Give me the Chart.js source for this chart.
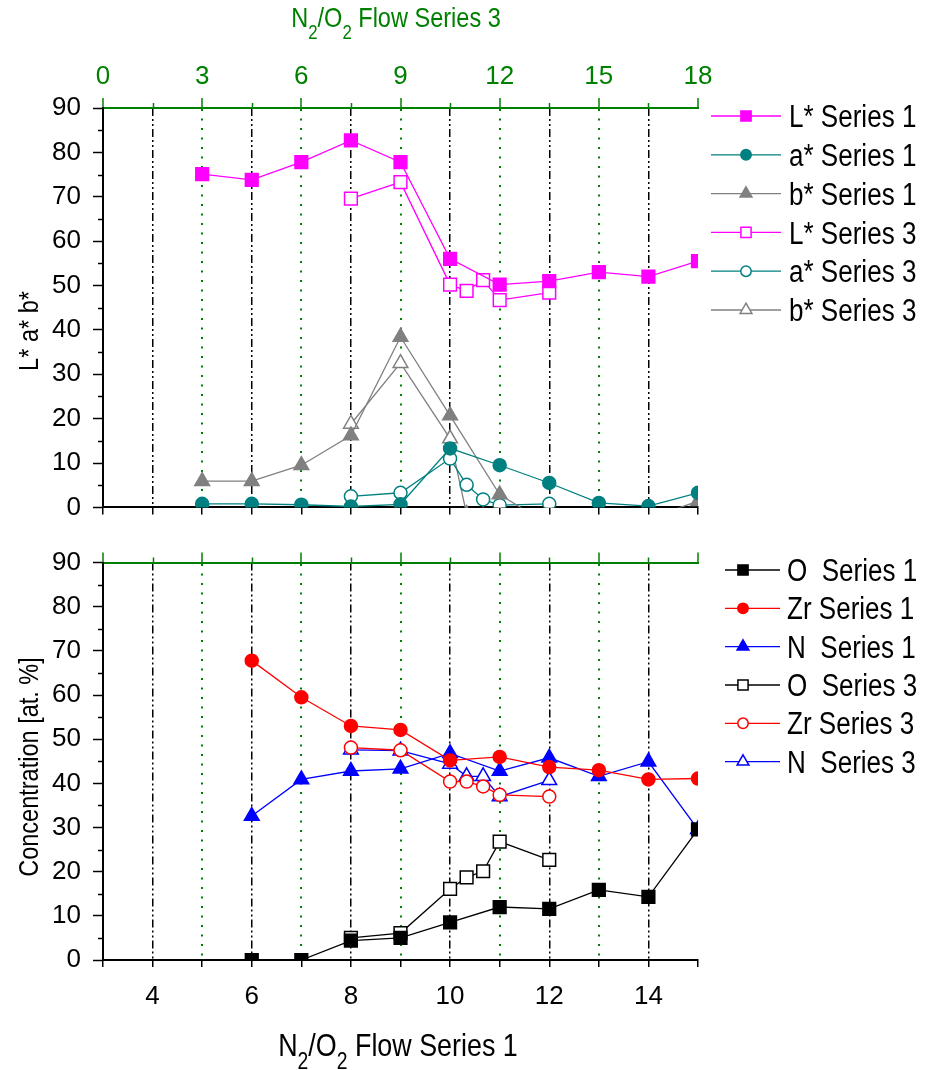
<!DOCTYPE html>
<html>
<head>
<meta charset="utf-8">
<title>Colour and composition vs N2/O2 flow</title>
<script src="https://cdn.jsdelivr.net/npm/chart.js@4.4.1/dist/chart.umd.min.js"></script>
<style>
  html, body { margin: 0; padding: 0; background: #fff; }
  #wrap { position: relative; width: 932px; height: 1070px; }
  canvas { position: absolute; left: 0; }
  #colorChart { top: 0; }
  #compChart { top: 535px; }
</style>
</head>
<body>
<div id="wrap">
  <canvas id="colorChart" width="932" height="535"></canvas>
  <canvas id="compChart" width="932" height="535"></canvas>
</div>
<script>
// flow values: Series 1 sits on the bottom axis, Series 3 on the top (green) axis
const flowS1Color = [5, 6, 7, 8, 9, 10, 11, 12, 13, 14, 15];
const flowS1Comp = [6, 7, 8, 9, 10, 11, 12, 13, 14, 15];
const flowS3 = [7.5, 9, 10.5, 11, 11.5, 12, 13.5];

// CIELab colour coordinates
const lStarS1 = [75.1, 73.8, 77.8, 82.7, 77.8, 56.0, 50.2, 51.0, 53.0, 52.0, 55.5];
const aStarS1 = [0.8, 0.8, 0.6, 0.2, 0.7, 13.3, 9.5, 5.5, 1.0, 0.3, 3.3];
const bStarS1 = [5.9, 5.9, 9.5, 16.2, 38.4, 20.7, 2.9, -4.0, -3.0, -2.5, 1.4];
const lStarS3 = [69.6, 73.3, 50.2, 48.8, 51.2, 46.7, 48.4];
const aStarS3 = [2.5, 3.3, 11.0, 5.1, 1.8, 0.5, 0.8];
const bStarS3 = [18.8, 32.5, 15.5, -1.5, -2.0, -1.5, -1.0];

// composition [at. %]
const oS1 = [0, 0, 4.4, 5.0, 8.5, 12.0, 11.6, 15.9, 14.3, 29.6];
const zrS1 = [67.8, 59.5, 53.0, 52.1, 45.2, 46.0, 43.7, 43.0, 40.9, 41.1];
const nS1 = [32.6, 40.9, 42.8, 43.3, 46.8, 42.8, 45.8, 41.6, 44.9, 29.6];
const oS3 = [5.0, 6.1, 16.1, 18.7, 20.1, 26.8, 22.7];
const zrS3 = [48.1, 47.5, 40.4, 40.4, 39.3, 37.4, 37.0];
const nS3 = [47.6, 47.4, 44.4, 41.6, 41.6, 37.0, 40.7];

// tick labels
const flowS1Ticks = [4, 6, 8, 10, 12, 14];
const flowS3Ticks = [0, 3, 6, 9, 12, 15, 18];
const yTicks = [0, 10, 20, 30, 40, 50, 60, 70, 80, 90];

const GREEN = '#008000';
const CLEAR = 'rgba(0,0,0,0)';
const SANS = '"Liberation Sans", Arial, sans-serif';
const SQUEEZE = 0.84; // legend and titles use a condensed face
const tickFont = { family: SANS, size: 26 };

const markerRadius = { rect: 9, circle: 6.5, triangle: 8.5 };

const toPoints = (xs, ys) => xs.map((x, i) => ({ x: x, y: ys[i] }));

function series(label, xs, ys, color, style, filled, xAxisID) {
  return {
    label: label,
    data: toPoints(xs, ys),
    xAxisID: xAxisID,
    yAxisID: 'y',
    borderColor: color,
    backgroundColor: color,
    borderWidth: 1.3,
    pointStyle: style,
    pointRadius: markerRadius[style],
    pointHoverRadius: markerRadius[style],
    pointBackgroundColor: filled ? color : '#fff',
    pointBorderColor: color,
    pointBorderWidth: 1.5,
    clip: 0
  };
}

function buildScales(isTop) {
  return {
    x: {
      type: 'linear', position: 'bottom', min: 3, max: 15,
      ticks: {
        display: !isTop, stepSize: 1, autoSkip: false, maxRotation: 0, padding: 14,
        color: '#000', font: tickFont,
        callback: v => flowS1Ticks.includes(v) ? String(v) : ''
      },
      grid: {
        color: c => (c.tick && flowS1Ticks.includes(c.tick.value)) ? '#000' : CLEAR,
        lineWidth: 1.5, tickColor: '#000', tickWidth: 1.5, tickLength: 7
      },
      border: { color: '#000', width: 2, dash: [8, 3, 2, 3, 2, 3] },
      afterFit: s => { s.height = isTop ? 22 : 110; s.paddingLeft = 0; s.paddingRight = 0; }
    },
    x2: {
      type: 'linear', position: 'top', min: 0, max: 18,
      afterBuildTicks: s => { s.ticks = flowS3Ticks.map(v => ({ value: v })); },
      ticks: {
        display: isTop, autoSkip: false, maxRotation: 0, padding: 6,
        color: GREEN, font: tickFont
      },
      grid: {
        color: c => (c.tick && c.tick.value > 0 && c.tick.value < 18) ? GREEN : CLEAR,
        lineWidth: 2, tickColor: GREEN, tickWidth: 1.5, tickLength: 10
      },
      border: { color: GREEN, width: 2, dash: [2, 7.5] },
      afterFit: s => { s.height = isTop ? 108 : 20; s.paddingLeft = 0; s.paddingRight = 0; }
    },
    y: {
      type: 'linear', position: 'left', min: 0, max: 90,
      afterBuildTicks: s => { s.ticks = yTicks.map(v => ({ value: v })); },
      ticks: { padding: 12, color: '#000', font: tickFont },
      grid: { drawOnChartArea: false, tickColor: '#000', tickWidth: 1.5, tickLength: 10 },
      border: { color: '#000', width: 2 },
      afterFit: s => { s.width = 103; }
    }
  };
}

// short ticks between the labelled ones on the left and top axes
const minorTicks = {
  id: 'minorTicks',
  afterDraw(chart) {
    const { ctx, chartArea, scales } = chart;
    ctx.save();
    ctx.lineWidth = 1.5;
    ctx.strokeStyle = '#000';
    ctx.beginPath();
    for (let v = 5; v < 90; v += 10) {
      const y = Math.round(scales.y.getPixelForValue(v)) + 0.5;
      ctx.moveTo(chartArea.left - 5, y);
      ctx.lineTo(chartArea.left, y);
    }
    ctx.stroke();
    ctx.strokeStyle = GREEN;
    ctx.beginPath();
    for (let v = 1.5; v < 18; v += 3) {
      const x = Math.round(scales.x2.getPixelForValue(v)) + 0.5;
      ctx.moveTo(x, chartArea.top - 5);
      ctx.lineTo(x, chartArea.top);
    }
    ctx.stroke();
    ctx.restore();
  }
};

// line + marker legend to the right of the plot
const sideLegend = {
  id: 'sideLegend',
  afterDraw(chart, args, opts) {
    const ctx = chart.ctx;
    ctx.save();
    chart.data.datasets.forEach((ds, i) => {
      const y = opts.top + i * opts.step;
      ctx.setLineDash([]);
      ctx.strokeStyle = ds.borderColor;
      ctx.lineWidth = 1.3;
      ctx.beginPath();
      ctx.moveTo(opts.lineStart, y);
      ctx.lineTo(opts.lineEnd, y);
      ctx.stroke();
      ctx.fillStyle = ds.pointBackgroundColor;
      ctx.strokeStyle = ds.pointBorderColor;
      ctx.lineWidth = ds.pointBorderWidth;
      Chart.helpers.drawPoint(ctx, {
        pointStyle: ds.pointStyle,
        radius: ds.pointRadius * 0.8,
        rotation: 0,
        borderWidth: ds.pointBorderWidth
      }, opts.markerX, y);
      ctx.save();
      ctx.translate(opts.textX, y + opts.size * 0.36);
      ctx.scale(SQUEEZE, 1);
      ctx.fillStyle = '#000';
      ctx.font = opts.size + 'px ' + SANS;
      ctx.textBaseline = 'alphabetic';
      ctx.textAlign = 'left';
      ctx.fillText(ds.label, 0, 0);
      ctx.restore();
    });
    ctx.restore();
  }
};

// axis titles with subscripts, optionally rotated
const axisTitles = {
  id: 'axisTitles',
  afterDraw(chart, args, opts) {
    const ctx = chart.ctx;
    opts.items.forEach(item => {
      const subSize = Math.round(item.size * 0.72);
      ctx.save();
      ctx.translate(item.x, item.y);
      if (item.rotate) ctx.rotate(-Math.PI / 2);
      ctx.scale(SQUEEZE, 1);
      ctx.fillStyle = item.color;
      ctx.textBaseline = 'alphabetic';
      ctx.textAlign = 'left';
      const widths = item.parts.map(p => {
        ctx.font = (p.sub ? subSize : item.size) + 'px ' + SANS;
        return ctx.measureText(p.text).width;
      });
      let x = -widths.reduce((a, b) => a + b, 0) / 2;
      const base = item.size * 0.36;
      item.parts.forEach((p, i) => {
        ctx.font = (p.sub ? subSize : item.size) + 'px ' + SANS;
        ctx.fillText(p.text, x, base + (p.sub ? item.size * 0.42 : 0));
        x += widths[i];
      });
      ctx.restore();
    });
  }
};

function flowTitle(seriesNo) {
  return [
    { text: 'N' }, { text: '2', sub: true }, { text: '/O' }, { text: '2', sub: true },
    { text: ' Flow Series ' + seriesNo }
  ];
}

function baseOptions(isTop, legendOpts, titles) {
  return {
    responsive: false,
    animation: false,
    layout: { padding: { left: 0, right: 234, top: 0, bottom: 0 } },
    scales: buildScales(isTop),
    plugins: {
      legend: { display: false },
      tooltip: { enabled: false },
      sideLegend: legendOpts,
      axisTitles: { items: titles }
    }
  };
}

new Chart(document.getElementById('colorChart'), {
  type: 'line',
  data: {
    datasets: [
      series('L* Series 1', flowS1Color, lStarS1, '#ff00ff', 'rect', true, 'x'),
      series('a* Series 1', flowS1Color, aStarS1, '#008080', 'circle', true, 'x'),
      series('b* Series 1', flowS1Color, bStarS1, '#808080', 'triangle', true, 'x'),
      series('L* Series 3', flowS3, lStarS3, '#ff00ff', 'rect', false, 'x2'),
      series('a* Series 3', flowS3, aStarS3, '#008080', 'circle', false, 'x2'),
      series('b* Series 3', flowS3, bStarS3, '#808080', 'triangle', false, 'x2')
    ]
  },
  options: baseOptions(true,
    { top: 116, step: 38.8, lineStart: 711, lineEnd: 781, markerX: 746, textX: 789, size: 31 },
    [
      { parts: flowTitle(3), x: 396, y: 17, size: 28, color: GREEN },
      { parts: [{ text: 'L* a* b*' }], x: 28, y: 331, size: 28, color: '#000', rotate: true }
    ]),
  plugins: [minorTicks, sideLegend, axisTitles]
});

new Chart(document.getElementById('compChart'), {
  type: 'line',
  data: {
    datasets: [
      series('O  Series 1', flowS1Comp, oS1, '#000000', 'rect', true, 'x'),
      series('Zr Series 1', flowS1Comp, zrS1, '#ff0000', 'circle', true, 'x'),
      series('N  Series 1', flowS1Comp, nS1, '#0000ff', 'triangle', true, 'x'),
      series('O  Series 3', flowS3, oS3, '#000000', 'rect', false, 'x2'),
      series('Zr Series 3', flowS3, zrS3, '#ff0000', 'circle', false, 'x2'),
      series('N  Series 3', flowS3, nS3, '#0000ff', 'triangle', false, 'x2')
    ]
  },
  options: baseOptions(false,
    { top: 35, step: 38.33, lineStart: 725, lineEnd: 780, markerX: 743, textX: 787, size: 31 },
    [
      { parts: flowTitle(1), x: 398, y: 509, size: 32, color: '#000' },
      { parts: [{ text: 'Concentration [at. %]' }], x: 28, y: 232, size: 28, color: '#000', rotate: true }
    ]),
  plugins: [minorTicks, sideLegend, axisTitles]
});
</script>
</body>
</html>
